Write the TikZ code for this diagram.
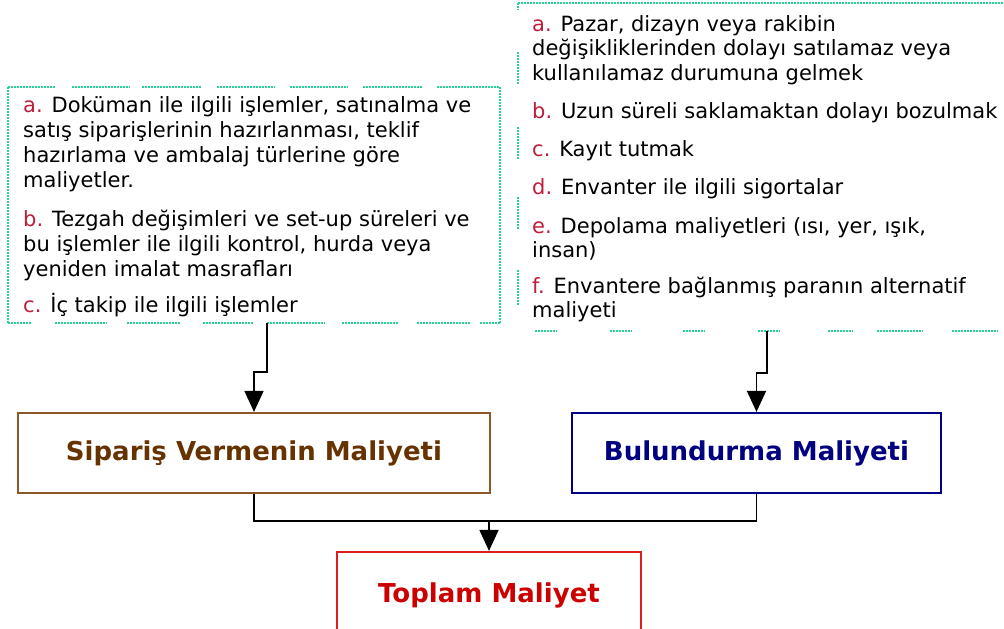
\documentclass[tikz,border=0pt]{standalone}
\usepackage{fontspec}
\setmainfont{DejaVu Sans}
\usetikzlibrary{arrows.meta,calc}
\definecolor{dotgreen}{RGB}{40,210,150}
\definecolor{lblred}{RGB}{190,30,60}
\definecolor{brownb}{RGB}{140,88,40}
\definecolor{brownt}{RGB}{102,51,0}
\definecolor{navyc}{RGB}{0,0,128}
\definecolor{redb}{RGB}{220,30,30}
\definecolor{redt}{RGB}{204,0,0}
\newcommand{\lb}[1]{\strut\textcolor{lblred}{#1}}
\begin{document}
\begin{tikzpicture}[x=1pt,y=-1pt,
  itemL/.style={anchor=north west, inner sep=0pt, align=left, font=\fontsize{21}{25}\selectfont},
  itemR/.style={anchor=north west, inner sep=0pt, align=left, font=\fontsize{21}{24.5}\selectfont},
  dots/.style={draw=dotgreen, line width=1.8pt, dash pattern=on 1.5pt off 1.5pt},
  costbox/.style={draw, line width=2.2pt, inner sep=0pt, font=\fontsize{26}{30}\bfseries\selectfont},
  conn/.style={draw=black, line width=1.6pt},
  arrow/.style={conn, -{Triangle[length=21pt,width=19pt]}}
]
\useasboundingbox (0,0) rectangle (1004,629);

% dotted frames (as named nodes)
\node[minimum width=492pt, minimum height=236pt, inner sep=0pt] (lbox) at (254,205) {};
\node[minimum width=498pt, minimum height=328pt, inner sep=0pt] (rbox) at (767,167) {};

% left frame: sides continuous, top/bottom in segments
\draw[dots] (8,87) -- (8,323);
\draw[dots] (500,87) -- (500,323);
\foreach \a/\b in {8/55,72/130,142/202,217/275,290/348,363/422,437/500}
  \draw[dots] (\a,87) -- (\b,87);
\foreach \a/\b in {8/32,55/107,127/180,203/253,267/325,342/398,417/470,480/500}
  \draw[dots] (\a,323) -- (\b,323);

% right frame
\draw[dots] (518,3) -- (1004,3);
\foreach \a/\b in {3/10,52/85,127/160,197/230,270/305}
  \draw[dots] (518,\a) -- (518,\b);
\foreach \a/\b in {535/557,610/632,683/705,758/780,828/853,877/923,952/998}
  \draw[dots] (\a,331) -- (\b,331);

% left items (top = baseline - 17.5)
\node[itemL] (la1) at (23,94.5) {\lb{a.} Doküman ile ilgili işlemler, satınalma ve\\satış siparişlerinin hazırlanması, teklif\\hazırlama ve ambalaj türlerine göre\\maliyetler.};
\node[itemL] (lb1) at (23,208.5) {\lb{b.} Tezgah değişimleri ve set-up süreleri ve\\bu işlemler ile ilgili kontrol, hurda veya\\yeniden imalat masrafları};
\node[itemL] (lc1) at (23,293.5) {\lb{c.} İç takip ile ilgili işlemler};

% right items (top = baseline - 17.15)
\node[itemR] (ra1) at (532,13.85) {\lb{a.} Pazar, dizayn veya rakibin\\değişikliklerinden dolayı satılamaz veya\\kullanılamaz durumuna gelmek};
\node[itemR] (rb1) at (532,100.85) {\lb{b.} Uzun süreli saklamaktan dolayı bozulmak};
\node[itemR] (rc1) at (532,138.85) {\lb{c.} Kayıt tutmak};
\node[itemR] (rd1) at (532,176.85) {\lb{d.} Envanter ile ilgili sigortalar};
\node[itemR] (re1) at (532,215.85) {\lb{e.} Depolama maliyetleri (ısı, yer, ışık,\\insan)};
\node[itemR] (rf1) at (532,275.85) {\lb{f.} Envantere bağlanmış paranın alternatif\\maliyeti};

% cost boxes
\node[costbox, draw=brownb, text=brownt, minimum width=472pt, minimum height=80pt] (sv) at (254,453) {Sipariş Vermenin Maliyeti};
\node[costbox, draw=navyc, text=navyc, minimum width=369pt, minimum height=80pt] (bm) at (756.5,453) {Bulundurma Maliyeti};
\node[costbox, draw=redb, text=redt, minimum width=304pt, minimum height=86pt] (tm) at (489,595) {Toplam Maliyet};

% connectors
\coordinate (la) at ($(lbox.south)+(13,0)$);
\draw[arrow] (la) -- ++(0,49) -| (sv.north);
\draw[arrow] (rbox.south) -- ++(0,42) -| (bm.north);
\coordinate (j) at ($(tm.north)+(0,-30)$);
\draw[conn] (sv.south) |- (j);
\draw[conn] (bm.south) |- (j);
\draw[arrow] (j) -- (tm.north);
\end{tikzpicture}
\end{document}
